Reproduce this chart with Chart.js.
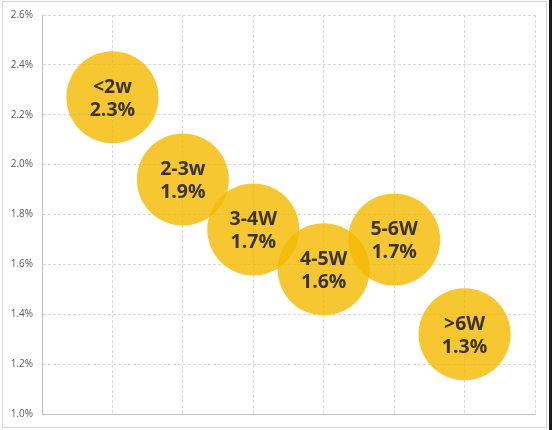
<!DOCTYPE html>
<html>
<head>
<meta charset="utf-8">
<script src="https://cdn.jsdelivr.net/npm/chart.js@4/dist/chart.umd.min.js"></script>
<style>
  html, body { margin: 0; padding: 0; background: #fff; }
  #wrap { position: relative; width: 552px; height: 430px; }
  canvas { display: block; }
</style>
</head>
<body>
<div id="wrap"><canvas id="c" width="552" height="430"></canvas></div>
<script>
// Data
const groups = ["<2w", "2-3w", "3-4W", "4-5W", "5-6W", ">6W"];
const xPositions = [1, 2, 3, 4, 5, 6];
const rates = [2.27, 1.94, 1.74, 1.58, 1.70, 1.32];
const valueLabels = ["2.3%", "1.9%", "1.7%", "1.6%", "1.7%", "1.3%"];
const yTicks = [1.0, 1.2, 1.4, 1.6, 1.8, 2.0, 2.2, 2.4, 2.6];

const bubbleData = groups.map((g, i) => ({ x: xPositions[i], y: rates[i], r: 46 }));

const labelPlugin = {
  id: 'bubbleLabels',
  afterDatasetsDraw(chart) {
    const ctx = chart.ctx;
    const meta = chart.getDatasetMeta(0);
    ctx.save();
    ctx.fillStyle = '#3b3424';
    ctx.font = 'bold 19.5px "Open Sans", "Noto Sans", sans-serif';
    ctx.textAlign = 'center';
    ctx.textBaseline = 'middle';
    meta.data.forEach((el, i) => {
      ctx.fillText(groups[i], el.x, el.y - 10);
      ctx.fillText(valueLabels[i], el.x, el.y + 13);
    });
    ctx.restore();
  }
};

const framePlugin = {
  id: 'frame',
  afterDraw(chart) {
    const ctx = chart.ctx;
    ctx.save();
    ctx.strokeStyle = '#d4d4d4';
    ctx.lineWidth = 1;
    ctx.strokeRect(2.5, 1.5, 544, 426);
    ctx.fillStyle = '#1a1a1a';
    ctx.fillRect(549, 0, 3, 430);
    ctx.restore();
  }
};

new Chart(document.getElementById('c'), {
  type: 'bubble',
  data: {
    datasets: [{
      data: bubbleData,
      backgroundColor: 'rgba(245,187,4,0.82)',
      borderWidth: 0,
      hoverBorderWidth: 0
    }]
  },
  options: {
    responsive: false,
    animation: false,
    events: [],
    layout: { autoPadding: false, padding: { top: 15, right: 17, bottom: 0, left: 0 } },
    plugins: { legend: { display: false }, tooltip: { enabled: false } },
    scales: {
      x: {
        type: 'linear',
        min: 0, max: 7,
        ticks: { display: false, stepSize: 1 },
        grid: { color: '#d9d9d9', drawTicks: false },
        border: { display: true, color: '#bfbfbf', dash: [3, 2] },
        afterFit(scale) { scale.height = 16; }
      },
      y: {
        type: 'linear',
        min: 1.0, max: 2.6,
        afterBuildTicks(scale) { scale.ticks = yTicks.map(v => ({ value: v })); },
        ticks: {
          color: '#595959',
          font: { family: '"Open Sans", sans-serif', size: 10 },
          padding: 9,
          callback: v => Number(v).toFixed(1) + '%'
        },
        grid: { color: '#d9d9d9', drawTicks: false },
        border: { display: true, color: '#bfbfbf', dash: [3, 2] },
        afterFit(scale) { scale.width = 42; }
      }
    }
  },
  plugins: [labelPlugin, framePlugin]
});
</script>
</body>
</html>
